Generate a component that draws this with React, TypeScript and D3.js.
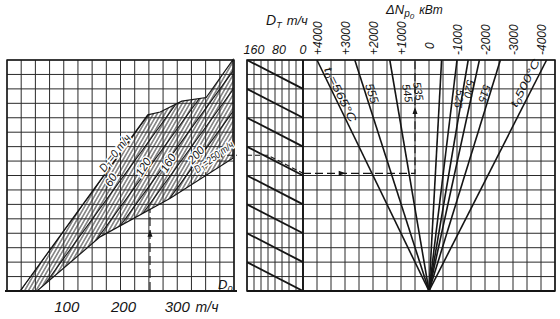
import React from 'react';
import * as d3 from 'd3';

const W = 560;
const H = 319;

// ---------- left panel: D0 (т/ч) vs power (grid units) ----------
const d0Ticks = [100, 200, 300];
const d0Min = 0, d0Max = 400, d0Step = 25;
const nMin = 0, nMax = 16, nStep = 1;

// D_T lines (т/ч) and their D0 intercepts (т/ч)
const dtValues = [0, 60, 120, 160, 200, 250];
const dtIntercepts = [23, 58, 92, 116, 140, 168];
const dtSlope = 0.054;

// hatched working-range outline (D0, N)
const zoneD0 = [23, 248, 270, 308, 351, 398, 398, 287, 164, 53];
const zoneN = [0, 12.2, 12.4, 13.15, 13.4, 16, 9.2, 6.4, 3.75, 0];

// ---------- middle panel: D_T scale ----------
const dtTicks = [160, 80, 0];
const dtMin = 0, dtMax = 160, dtStep = 20;
const dtDiagStart = [16, 14, 12, 10, 8, 6, 4, 2];
const dtDiagDrop = 2;

// ---------- right panel: ΔN_p0 (кВт) ----------
const dnTicks = [4000, 3000, 2000, 1000, 0, -1000, -2000, -3000, -4000];
const dnTickText = ['+4000', '+3000', '+2000', '+1000', '0', '-1000', '-2000', '-3000', '-4000'];
const dnMax = 4500, dnMin = -4500, dnStep = 500;
// t0 fan lines: ΔN at the top edge
const fanTop = [4000, 2650, 1400, -450, -1000, -1400, -1800, -2550, -4200];

// worked example (dashed key line)
const exD0 = 252;
const exNEnv = 5.7;
const exNLeft = 9.4;
const exNRight = 8.15;
const exDtBend = 100;
const exDN = 500;

const FONT = '"Liberation Sans", Arial, sans-serif';
const INK = '#151515';

type Part = [string, number];

export default function App() {
  const xL = d3.scaleLinear().domain([d0Min, d0Max]).range([7, 234]);
  const yN = d3.scaleLinear().domain([nMin, nMax]).range([291, 60]);
  const xDT = d3.scaleLinear().domain([dtMax, dtMin]).range([247, 303]);
  const xDN = d3.scaleLinear().domain([dnMax, dnMin]).range([303, 555]);

  const d0Grid = d3.range(d0Min, d0Max + 1e-6, d0Step);
  const nGrid = d3.range(nMin, nMax + 1e-6, nStep);
  const dtGrid = d3.range(dtMin, dtMax + 1e-6, dtStep);
  const dnGrid = d3.range(dnMin, dnMax + 1e-6, dnStep);

  const line = d3.line();
  const zonePath = line(zoneD0.map((d, i) => [xL(d), yN(zoneN[i])] as [number, number])) + 'Z';

  const arrow = (x: number, y: number, dir: 'up' | 'left' | 'right', k = 1) => {
    const L = 7 * k, w = 2.5 * k;
    let pts: number[][];
    if (dir === 'up') pts = [[x, y - L / 2], [x - w, y + L / 2], [x + w, y + L / 2]];
    else if (dir === 'left') pts = [[x - L / 2, y], [x + L / 2, y - w], [x + L / 2, y + w]];
    else pts = [[x + L / 2, y], [x - L / 2, y - w], [x - L / 2, y + w]];
    return <polygon points={pts.map(p => p.join(',')).join(' ')} fill={INK} />;
  };

  const fanGeom = fanTop.map(top => {
    const x0 = xDN(0), y0 = yN(0), xt = xDN(top), yt = yN(nMax);
    const len = Math.hypot(x0 - xt, y0 - yt);
    return { x0, y0, xt, yt, dx: (x0 - xt) / len, dy: (y0 - yt) / len, top };
  });

  const fanLabels: { line: number; n: number; off: number; up?: boolean; size: number; parts: Part[]; tl?: number }[] = [
    { line: 0, n: 13.43, off: 6, size: 11.5, parts: [['t', 0], ['0', 1], ['=565°C', 0]], tl: 60 },
    { line: 1, n: 13.57, off: 6, size: 12, parts: [['555', 0]] },
    { line: 2, n: 13.57, off: 12, size: 11, parts: [['545', 0]] },
    { line: 2, n: 13.57, off: 23, size: 11, parts: [['535', 0]] },
    { line: 4, n: 13.37, off: 7, size: 11, parts: [['525', 0]] },
    { line: 5, n: 14.06, off: 6, size: 11, parts: [['520', 0]] },
    { line: 7, n: 13.57, off: -5, size: 11, parts: [['515', 0]] },
    { line: 8, n: 14.13, off: -9, up: true, size: 11, parts: [['t', 0], ['0', 1], ['500°C', 0]], tl: 52 },
  ];

  const renderParts = (parts: Part[], size: number) =>
    parts.map(([t, sub], i) => {
      const prevSub = i > 0 ? parts[i - 1][1] : 0;
      const dy = sub && !prevSub ? size * 0.3 : !sub && prevSub ? -size * 0.3 : 0;
      return (
        <tspan key={i} dy={dy} fontSize={sub ? size * 0.7 : size}>
          {t}
        </tspan>
      );
    });

  const leftLabels: { d0: number; n: number; rot: number; parts: Part[]; size: number; tl?: number }[] = [
    { d0: 190, n: 9.56, rot: -52, size: 11.5, parts: [['D', 0], ['T', 1], ['=0 т/ч', 0]], tl: 44 },
    { d0: 183, n: 7.69, rot: -60, size: 11.5, parts: [['60', 0]] },
    { d0: 240, n: 8.59, rot: -58, size: 11.5, parts: [['120', 0]] },
    { d0: 284, n: 8.87, rot: -60, size: 11.5, parts: [['160', 0]] },
    { d0: 333, n: 9.42, rot: -48, size: 11.5, parts: [['200', 0]] },
    { d0: 364, n: 9.3, rot: -36, size: 10.5, parts: [['D', 0], ['T', 1], ['=250 т/ч', 0]], tl: 46 },
  ];

  return (
    <svg
      width={W}
      height={H}
      viewBox={`0 0 ${W} ${H}`}
      style={{ position: 'absolute', left: 0, top: 0, background: '#fff' }}
      fontFamily={FONT}
    >
      <defs>
        <pattern id="hatch" patternUnits="userSpaceOnUse" width={3.3} height={10} patternTransform="rotate(30)">
          <line x1={1.65} y1={0} x2={1.65} y2={10} stroke="#222" strokeWidth={0.9} />
        </pattern>
        <clipPath id="zoneClip">
          <path d={zonePath} />
        </clipPath>
        <clipPath id="dtClip">
          <rect x={xDT(dtMax)} y={yN(nMax)} width={xDT(dtMin) - xDT(dtMax)} height={yN(nMin) - yN(nMax)} />
        </clipPath>
      </defs>
      <rect width={W} height={H} fill="#fff" />

      {/* ---------- LEFT PANEL ---------- */}
      <g stroke="#2a2a2a" strokeWidth={1}>
        {d0Grid.map(v => (
          <line key={'lv' + v} x1={xL(v)} x2={xL(v)} y1={yN(nMin)} y2={yN(nMax)} />
        ))}
        {nGrid.map(v => (
          <line key={'lh' + v} x1={xL(d0Min)} x2={xL(d0Max)} y1={yN(v)} y2={yN(v)} />
        ))}
      </g>
      <rect x={xL(d0Min)} y={yN(nMax)} width={xL(d0Max) - xL(d0Min)} height={yN(nMin) - yN(nMax)} fill="none" stroke={INK} strokeWidth={1.4} />
      <line x1={xL(d0Min) - 2} x2={xL(d0Max) + 3} y1={yN(0)} y2={yN(0)} stroke={INK} strokeWidth={2.2} />

      {/* hatched working zone */}
      <path d={zonePath} fill="url(#hatch)" stroke={INK} strokeWidth={1.2} />
      <g clipPath="url(#zoneClip)" stroke={INK} strokeWidth={1.1}>
        {dtIntercepts.map((b, i) => (
          <line key={'dtl' + i} x1={xL(b)} y1={yN(0)} x2={xL(b + nMax / dtSlope)} y2={yN(nMax)} />
        ))}
      </g>

      {/* example key line in left panel */}
      <line x1={xL(exD0)} x2={xL(exD0)} y1={yN(0)} y2={yN(exNEnv)} stroke={INK} strokeWidth={1.1} strokeDasharray="9,4" />
      {arrow(xL(exD0), yN(4.0), 'up')}
      <line x1={xL(372)} x2={xL(d0Max) + 3} y1={yN(exNLeft)} y2={yN(exNLeft)} stroke={INK} strokeWidth={1.1} strokeDasharray="6,3" />
      {arrow(xL(374), yN(exNLeft), 'left')}

      {/* left panel labels */}
      <g fontStyle="italic" fill={INK}>
        {leftLabels.map((l, i) => (
          <text
            key={'ll' + i}
            transform={`translate(${xL(l.d0)},${yN(l.n)}) rotate(${l.rot})`}
            textAnchor="middle"
            dominantBaseline="central"
            stroke="#fff"
            strokeWidth={3}
            paintOrder="stroke"
            textLength={l.tl}
            lengthAdjust={l.tl ? 'spacingAndGlyphs' : undefined}
          >
            {renderParts(l.parts, l.size)}
          </text>
        ))}
        {d0Ticks.map((v, i) => (
          <text key={'d0t' + v} x={xL(v) + (i < 2 ? 3 : 0)} y={312} fontSize={15} textAnchor="middle">
            {v}
          </text>
        ))}
        <text x={207} y={312} fontSize={14} textAnchor="middle">т/ч</text>
        <text x={218} y={289} fontSize={13}>
          D<tspan dy={3} fontSize={9}>0</tspan>
        </text>
      </g>

      {/* ---------- MIDDLE PANEL (D_T) ---------- */}
      <g stroke="#2a2a2a" strokeWidth={1}>
        {dtGrid.map(v => (
          <line key={'mv' + v} x1={xDT(v)} x2={xDT(v)} y1={yN(nMin)} y2={yN(nMax)} />
        ))}
        {nGrid.map(v => (
          <line key={'mh' + v} x1={xDT(dtMax)} x2={xDT(dtMin)} y1={yN(v)} y2={yN(v)} />
        ))}
      </g>
      <g clipPath="url(#dtClip)" stroke={INK} strokeWidth={1.8}>
        {dtDiagStart.map(s => (
          <line key={'dg' + s} x1={xDT(dtMax)} y1={yN(s)} x2={xDT(dtMin)} y2={yN(s - dtDiagDrop)} />
        ))}
      </g>
      <path
        d={
          line([
            [xDT(dtMax), yN(exNLeft)],
            [xDT(exDtBend), yN(exNLeft)],
            [xDT(dtMin), yN(exNRight)],
          ]) || ''
        }
        fill="none"
        stroke={INK}
        strokeWidth={1.1}
        strokeDasharray="5,3"
      />

      {/* ---------- RIGHT PANEL (ΔN fan) ---------- */}
      <g stroke="#2a2a2a" strokeWidth={1}>
        {dnGrid.map(v => (
          <line key={'rv' + v} x1={xDN(v)} x2={xDN(v)} y1={yN(nMin)} y2={yN(nMax)} />
        ))}
        {nGrid.map(v => (
          <line key={'rh' + v} x1={xDN(dnMax)} x2={xDN(dnMin)} y1={yN(v)} y2={yN(v)} />
        ))}
      </g>
      <rect x={xDT(dtMax)} y={yN(nMax)} width={xDN(dnMin) - xDT(dtMax)} height={yN(nMin) - yN(nMax)} fill="none" stroke={INK} strokeWidth={1.5} />
      <line x1={xDT(dtMin)} x2={xDT(dtMin)} y1={yN(nMin)} y2={yN(nMax)} stroke={INK} strokeWidth={1.8} />
      <line x1={xDT(dtMax)} x2={xDN(dnMin)} y1={yN(0)} y2={yN(0)} stroke={INK} strokeWidth={2} />

      <g stroke={INK} strokeWidth={1.6}>
        {fanGeom.map((f, i) => (
          <line key={'fan' + i} x1={f.x0} y1={f.y0} x2={f.xt} y2={f.yt} />
        ))}
      </g>

      <path
        d={
          line([
            [xDN(dnMax), yN(exNRight)],
            [xDN(exDN), yN(exNRight)],
            [xDN(exDN), yN(nMax)],
          ]) || ''
        }
        fill="none"
        stroke={INK}
        strokeWidth={1.1}
        strokeDasharray="8,4"
      />
      {arrow(xDN(3100), yN(exNRight), 'right')}
      {arrow(xDN(exDN), yN(12.5), 'up')}

      <g fontStyle="italic" fill={INK}>
        {fanLabels.map((l, i) => {
          const f = fanGeom[l.line];
          const px = xDN((f.top * l.n) / nMax);
          const py = yN(l.n);
          const rx = f.dy, ry = -f.dx;
          const cx = px + l.off * rx, cy = py + l.off * ry;
          let ang = (Math.atan2(f.dy, f.dx) * 180) / Math.PI;
          if (l.up) ang -= 180;
          return (
            <text
              key={'fl' + i}
              transform={`translate(${cx},${cy}) rotate(${ang})`}
              textAnchor="middle"
              dominantBaseline="central"
              textLength={l.tl}
              lengthAdjust={l.tl ? 'spacingAndGlyphs' : undefined}
            >
              {renderParts(l.parts, l.size)}
            </text>
          );
        })}
      </g>

      {/* top scales */}
      <g fontStyle="italic" fill={INK}>
        <text x={266} y={25} fontSize={14}>
          D<tspan dy={3} fontSize={9}>T</tspan>
          <tspan dy={-3} dx={5} fontSize={13}>т/ч</tspan>
        </text>
        {dtTicks.map((v, i) => (
          <text key={'dtt' + v} x={xDT(v) + (i === 0 ? 7 : i === 1 ? 4 : 0)} y={54} fontSize={12.5} textAnchor="middle">
            {v}
          </text>
        ))}
        <text x={386} y={14} fontSize={13}>
          ΔN<tspan dy={3} fontSize={10}>p</tspan>
          <tspan dy={2} fontSize={8}>0</tspan>
          <tspan dy={-5} dx={5} fontSize={12}>кВт</tspan>
        </text>
        {dnTicks.map((v, i) => (
          <text
            key={'dnt' + v}
            transform={`translate(${xDN(v) + 5},${v === 0 ? 49 : 55}) rotate(-90)`}
            fontSize={12}
            textAnchor="start"
          >
            {dnTickText[i]}
          </text>
        ))}
      </g>
    </svg>
  );
}
